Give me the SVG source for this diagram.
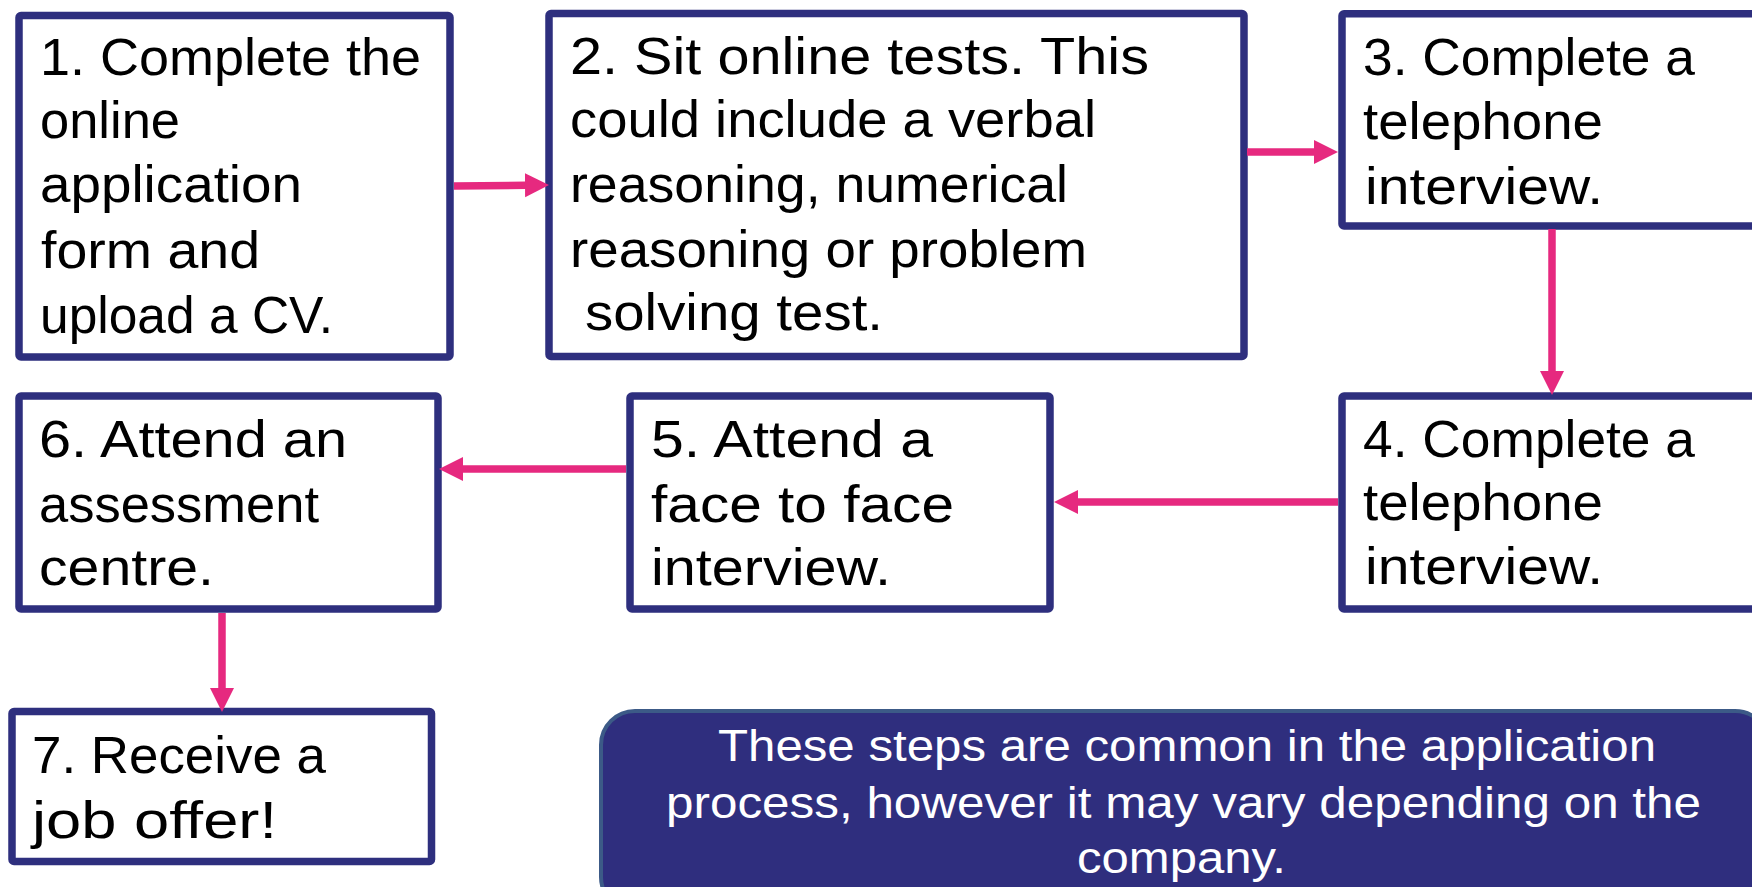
<svg xmlns="http://www.w3.org/2000/svg" width="1752" height="887" viewBox="0 0 1752 887">
<style>
.box{fill:#ffffff;stroke:#2E2F7E;stroke-width:7.5;stroke-linejoin:round}
.t{font-family:"Liberation Sans",Arial,sans-serif;font-size:52px;fill:#000000}
.n{font-family:"Liberation Sans",Arial,sans-serif;font-size:45px;fill:#ffffff}
.arr{fill:none;stroke:#E6297F;stroke-width:7.5}
.note{fill:#2F2E7E;stroke:#3C5A87;stroke-width:4}
</style>
<defs>
<marker id="ah" markerUnits="userSpaceOnUse" markerWidth="26" markerHeight="26" viewBox="0 -13 26 26" refX="1" refY="0" orient="auto">
<path d="M0,-12 L24,0 L0,12 Z" fill="#E6297F"/>
</marker>
</defs>
<rect width="1752" height="887" fill="#ffffff"/>
<g id="node1">
<rect class="box" x="19" y="15.5" width="431" height="341.5" rx="2"/>
<text class="t" x="40" y="75" textLength="381" lengthAdjust="spacingAndGlyphs">1. Complete the</text>
<text class="t" x="40" y="138" textLength="140" lengthAdjust="spacingAndGlyphs">online</text>
<text class="t" x="40" y="202" textLength="262" lengthAdjust="spacingAndGlyphs">application</text>
<text class="t" x="41" y="268" textLength="219" lengthAdjust="spacingAndGlyphs">form and</text>
<text class="t" x="40" y="333" textLength="293" lengthAdjust="spacingAndGlyphs">upload a CV.</text>
</g>
<g id="node2">
<rect class="box" x="549" y="13.5" width="695" height="343" rx="2"/>
<text class="t" x="570" y="74" textLength="579" lengthAdjust="spacingAndGlyphs">2. Sit online tests. This</text>
<text class="t" x="570" y="137" textLength="526" lengthAdjust="spacingAndGlyphs">could include a verbal</text>
<text class="t" x="570" y="202" textLength="498" lengthAdjust="spacingAndGlyphs">reasoning, numerical</text>
<text class="t" x="570" y="267" textLength="517" lengthAdjust="spacingAndGlyphs">reasoning or problem</text>
<text class="t" x="585" y="330" textLength="298" lengthAdjust="spacingAndGlyphs">solving test.</text>
</g>
<g id="node3">
<rect class="box" x="1342" y="13.7" width="500" height="212.3" rx="2"/>
<text class="t" x="1363" y="75" textLength="332" lengthAdjust="spacingAndGlyphs">3. Complete a</text>
<text class="t" x="1363" y="139" textLength="240" lengthAdjust="spacingAndGlyphs">telephone</text>
<text class="t" x="1365" y="204" textLength="238" lengthAdjust="spacingAndGlyphs">interview.</text>
</g>
<g id="node4">
<rect class="box" x="1342" y="396" width="500" height="213" rx="2"/>
<text class="t" x="1363" y="457" textLength="332" lengthAdjust="spacingAndGlyphs">4. Complete a</text>
<text class="t" x="1363" y="520" textLength="240" lengthAdjust="spacingAndGlyphs">telephone</text>
<text class="t" x="1365" y="584" textLength="238" lengthAdjust="spacingAndGlyphs">interview.</text>
</g>
<g id="node5">
<rect class="box" x="630" y="396" width="420" height="213" rx="2"/>
<text class="t" x="651" y="457" textLength="282" lengthAdjust="spacingAndGlyphs">5. Attend a</text>
<text class="t" x="651" y="522" textLength="303" lengthAdjust="spacingAndGlyphs">face to face</text>
<text class="t" x="651" y="585" textLength="240" lengthAdjust="spacingAndGlyphs">interview.</text>
</g>
<g id="node6">
<rect class="box" x="19" y="396" width="419" height="213" rx="2"/>
<text class="t" x="39" y="457" textLength="308" lengthAdjust="spacingAndGlyphs">6. Attend an</text>
<text class="t" x="39" y="522" textLength="280" lengthAdjust="spacingAndGlyphs">assessment</text>
<text class="t" x="39" y="585" textLength="175" lengthAdjust="spacingAndGlyphs">centre.</text>
</g>
<g id="node7">
<rect class="box" x="12" y="711.5" width="419.5" height="150" rx="2"/>
<text class="t" x="32" y="773" textLength="294" lengthAdjust="spacingAndGlyphs">7. Receive a</text>
<text class="t" x="32" y="838" textLength="245" lengthAdjust="spacingAndGlyphs">job offer!</text>
</g>
<g id="note">
<rect class="note" x="601" y="711" width="1168" height="200" rx="34"/>
<text class="n" x="718" y="761" textLength="938" lengthAdjust="spacingAndGlyphs">These steps are common in the application</text>
<text class="n" x="666" y="818" textLength="1035" lengthAdjust="spacingAndGlyphs">process, however it may vary depending on the</text>
<text class="n" x="1077" y="873" textLength="209" lengthAdjust="spacingAndGlyphs">company.</text>
</g>
<g id="connectors">
<path class="arr" d="M454,186 L526,185.3" marker-end="url(#ah)"/>
<path class="arr" d="M1247,152 L1315,152" marker-end="url(#ah)"/>
<path class="arr" d="M1552,229 L1552,372" marker-end="url(#ah)"/>
<path class="arr" d="M1338,502 L1077,502" marker-end="url(#ah)"/>
<path class="arr" d="M626,469 L462,469" marker-end="url(#ah)"/>
<path class="arr" d="M222,613 L222,689" marker-end="url(#ah)"/>
</g>
</svg>
